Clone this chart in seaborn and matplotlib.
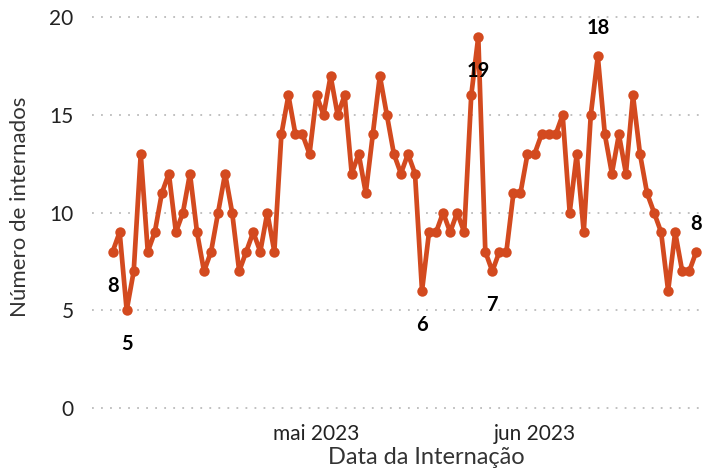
import pandas as pd
import matplotlib
matplotlib.use('Agg')
import matplotlib.pyplot as plt
import seaborn as sns
import numpy as np

# dados diários de internação
datas = pd.date_range('2023-04-02', periods=84, freq='D')
internados = [8, 9, 5, 7, 13, 8, 9, 11, 12, 9, 10, 12, 9, 7, 8, 10, 12, 10, 7, 8,
              9, 8, 10, 8, 14, 16, 14, 14, 13, 16, 15, 17, 15, 16, 12, 13, 11, 14, 17, 15,
              13, 12, 13, 12, 6, 9, 9, 10, 9, 10, 9, 16, 19, 8, 7, 8, 8, 11, 11, 13,
              13, 14, 14, 14, 15, 10, 13, 9, 15, 18, 14, 12, 14, 12, 16, 13, 11, 10, 9, 6,
              9, 7, 7, 8]

# pontos destacados: índice e posição do rótulo (abaixo / acima)
destaques = [0, 2, 44, 52, 54, 69, 83]
posicoes = ['abaixo', 'abaixo', 'abaixo', 'abaixo', 'abaixo', 'acima', 'acima']

ticks_x = ['2023-05-01', '2023-06-01']
rotulos_x = ['mai 2023', 'jun 2023']

df = pd.DataFrame({'Data da Internação': datas, 'Número de internados': internados})

sns.set_theme(style='white')
plt.rcParams['font.family'] = ['Lato', 'DejaVu Sans']

cor = '#D34A1F'
fig = plt.figure(figsize=(7.04, 4.69), dpi=100)
ax = fig.add_axes([0.13, 0.105, 0.87, 0.875])

sns.lineplot(data=df, x='Data da Internação', y='Número de internados', ax=ax,
             color=cor, linewidth=3.4, marker='o', markersize=7.5,
             markeredgecolor=cor, markeredgewidth=0)

for i, pos in zip(destaques, posicoes):
    dy = -34 if pos == 'abaixo' else 28
    ax.annotate(str(internados[i]), (datas[i], internados[i]),
                xytext=(0, dy), textcoords='offset pixels',
                ha='center', va='center', fontsize=14.5, fontweight='bold', color='black')

ax.set_ylim(-0.6, 20.4)
ax.set_xlim(datas[0] - pd.Timedelta(days=3), datas[0] + pd.Timedelta(days=84.1))
ax.set_yticks([0, 5, 10, 15, 20])
ax.set_xticks(pd.to_datetime(ticks_x))
ax.set_xticklabels(rotulos_x)
ax.tick_params(axis='both', labelsize=15, colors='#222222', length=0)
ax.tick_params(axis='y', pad=13)
ax.tick_params(axis='x', pad=3)

ax.yaxis.grid(True, linestyle=(0, (1, 4)), color='#bbbbbb', linewidth=1.3)
ax.xaxis.grid(False)
for s in ax.spines.values():
    s.set_visible(False)

ax.set_xlabel('Data da Internação', fontsize=17, color='#333333')
ax.set_ylabel('Número de internados', fontsize=16, color='#333333')
ax.xaxis.label.set_va('baseline')
ax.xaxis.set_label_coords(0.546, -0.108)
ax.yaxis.label.set_va('center')
ax.yaxis.set_label_coords(-0.117, 0.52)

fig.savefig('out.png', dpi=100)
